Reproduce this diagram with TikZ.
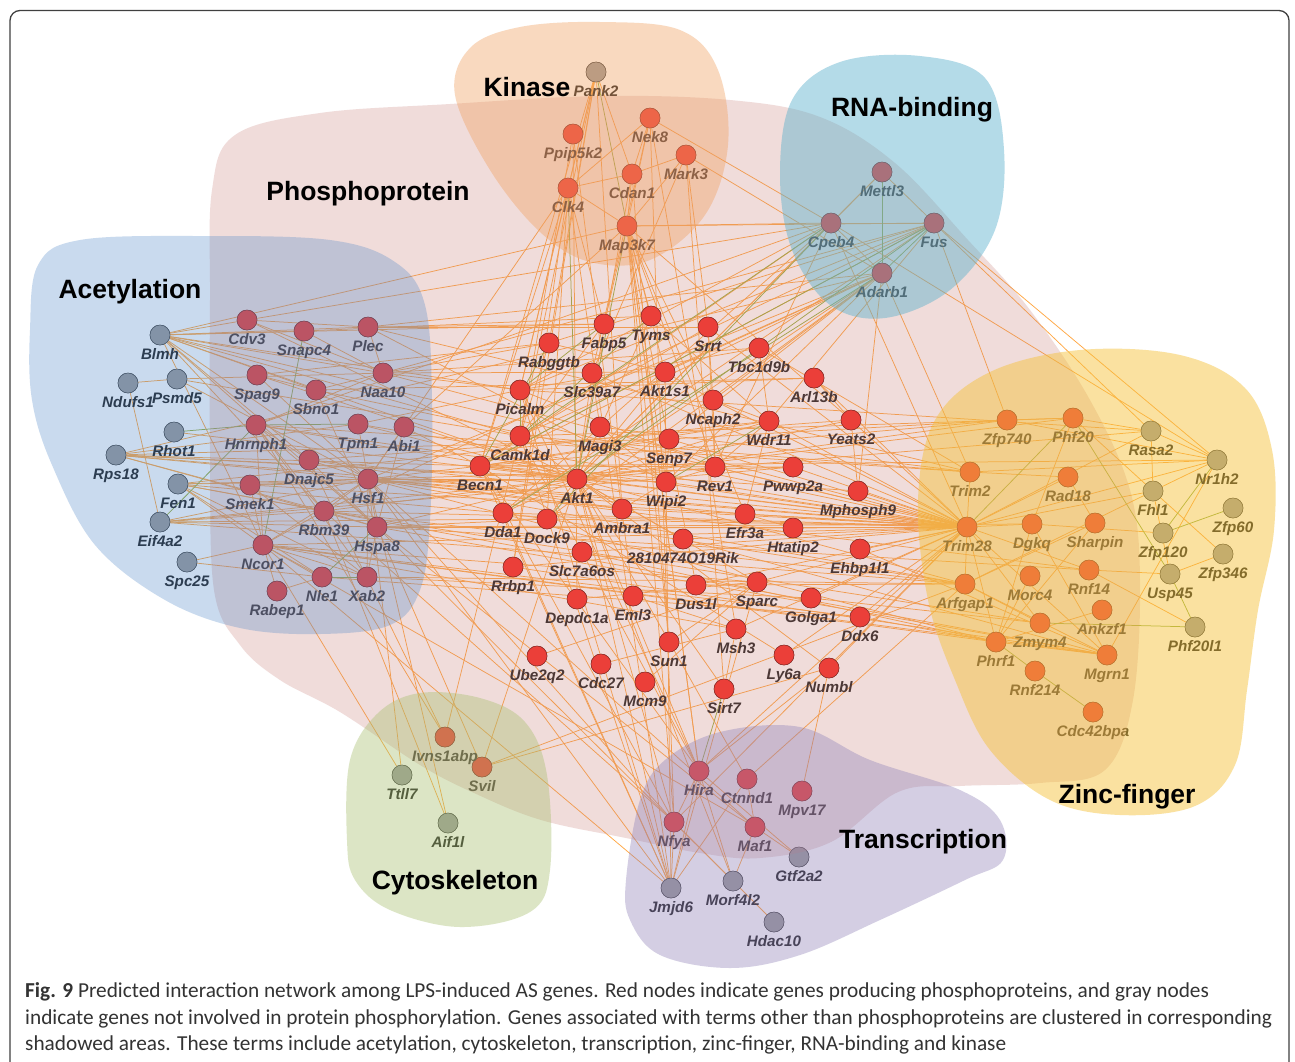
\documentclass[tikz,border=0pt]{standalone}
\usepackage{fontspec}
\setmainfont{Liberation Sans}
\newfontfamily\capfont{Carlito}
\definecolor{nodered}{HTML}{F82822}
\definecolor{nodegray}{HTML}{9A9A9A}
\definecolor{edgeor}{HTML}{FFA845}
\definecolor{edgegr}{HTML}{98B040}
\definecolor{labcol}{HTML}{1E1E1E}
\definecolor{phospho}{HTML}{C87F78}
\definecolor{acetyl}{HTML}{4F86C8}
\definecolor{kinase}{HTML}{F0A060}
\definecolor{rnab}{HTML}{5AB0CC}
\definecolor{zinc}{HTML}{F5C23A}
\definecolor{cyto}{HTML}{A8C070}
\definecolor{transc}{HTML}{8E80B8}
\definecolor{captxt}{HTML}{333333}
\begin{document}
\begin{tikzpicture}[x=1pt,y=-1pt,
  lnk/.style={draw=edgeor, line width=0.75pt},
  lnkg/.style={draw=edgegr, line width=0.75pt},
  rnode/.style={circle, fill=nodered, draw=nodered!45!black, line width=0.5pt, minimum size=20pt, inner sep=0pt},
  gnode/.style={circle, fill=nodegray, draw=nodegray!45!black, line width=0.5pt, minimum size=20pt, inner sep=0pt},
  lab/.style={font=\fontsize{15.2}{17}\selectfont\bfseries\itshape, text=labcol, anchor=base, inner sep=0pt},
  grp/.style={font=\fontsize{26.5}{30}\selectfont\bfseries, text=black, inner sep=0pt},
  blob/.style={fill opacity=#1, draw=none},
  capt/.style={font=\capfont\fontsize{21.3}{24}\selectfont, text=captxt, anchor=base west, inner sep=0pt}
]
\useasboundingbox (0,0) rectangle (1295,1061);
\clip (0,0) rectangle (1295,1061);
\fill[white] (0,0) rectangle (1295,1061);

% ---------------- nodes ----------------
\foreach \n/\x/\y in {Blmh/160/335, Ndufs1/128/383, Psmd5/177/379, Rhot1/174/432, Rps18/116/455, Fen1/178/484, Eif4a2/160/522, Spc25/187/562,
  Pank2/596/72, Rasa2/1151/431, Nr1h2/1217/460, Fhl1/1153/491, Zfp60/1233/508, Zfp120/1163/533, Zfp346/1223/554, Usp45/1170/574, Phf20l1/1195/627,
  Ttll7/402/775, Aif1l/448/823, Gtf2a2/799/857, Jmjd6/671/888, Morf4l2/733/881, Hdac10/774/922}
  { \node[gnode] (\n) at (\x,\y) {}; }

\foreach \n/\x/\y in {Cdv3/247/320, Snapc4/304/331, Plec/368/327, Spag9/257/375, Sbno1/316/390, Naa10/383/373, Hnrnph1/256/425, Tpm1/358/424, Abi1/404/427, Dnajc5/309/460, Smek1/250/485, Hsf1/368/479, Rbm39/324/511, Hspa8/377/527, Ncor1/263/545, Nle1/322/577, Xab2/367/577, Rabep1/277/591,
  Nek8/650/118, Ppip5k2/573/134, Mark3/686/155, Cdan1/632/174, Clk4/568/188, Map3k7/627/226,
  Mettl3/882/172, Cpeb4/831/223, Fus/934/223, Adarb1/882/273,
  Fabp5/604/324, Tyms/651/316, Srrt/708/327, Rabggtb/549/343, Tbc1d9b/759/348, Slc39a7/592/373, Akt1s1/665/372, Arl13b/814/378, Picalm/520/390, Ncaph2/713/400, Wdr11/769/421, Yeats2/851/420, Camk1d/520/436, Magi3/600/427, Senp7/669/439, Becn1/480/466, Rev1/715/467, Pwwp2a/793/467, Akt1/577/479, Wipi2/666/482, Mphosph9/858/491, Dda1/503/513, Dock9/547/519, Ambra1/622/509, Efr3a/745/514, Htatip2/793/528, Slc7a6os/582/552, Ehbp1l1/860/549, Rrbp1/513/567, Dus1l/696/585, Sparc/757/582, Depdc1a/577/599, Eml3/633/596, Golga1/811/598, Ddx6/860/617, Msh3/736/629, Sun1/669/642, Ly6a/784/655, Numbl/829/668, Ube2q2/537/656, Cdc27/601/664, Mcm9/645/682, Sirt7/724/689,
  Zfp740/1007/420, Phf20/1073/418, Trim2/970/472, Rad18/1068/477, Trim28/967/527, Dgkq/1032/524, Sharpin/1095/523, Rnf14/1089/570, Morc4/1030/576, Arfgap1/965/584, Ankzf1/1102/610, Zmym4/1040/623, Phrf1/996/642, Mgrn1/1107/655, Rnf214/1035/671, Cdc42bpa/1093/712,
  Ivns1abp/445/737, Svil/482/767, Hira/699/771, Ctnnd1/747/779, Mpv17/802/791, Nfya/674/822, Maf1/755/827}
  { \node[rnode] (\n) at (\x,\y) {}; }
\node[rnode] (Rik) at (683,539) {};

% ---------------- connectors ----------------
\foreach \a/\b in {Blmh/Snapc4, Blmh/Plec, Blmh/Naa10, Blmh/Sbno1, Blmh/Hsf1, Blmh/Hspa8, Blmh/Rbm39, Blmh/Akt1, Blmh/Trim28, Blmh/Picalm, Blmh/Ncor1, Blmh/Dnajc5, Blmh/Camk1d, Blmh/Cdv3,
 Ndufs1/Psmd5, Ndufs1/Eif4a2, Psmd5/Hsf1, Psmd5/Naa10,
 Rps18/Hsf1, Rps18/Akt1, Rps18/Hspa8, Rps18/Trim28, Rps18/Becn1, Rps18/Rbm39, Rps18/Tpm1, Rps18/Wipi2,
 Fen1/Hsf1, Fen1/Ncor1, Fen1/Rbm39, Fen1/Nle1, Fen1/Akt1, Fen1/Dda1, Fen1/Xab2, Fen1/Mgrn1,
 Eif4a2/Hspa8, Eif4a2/Hsf1, Eif4a2/Rbm39, Eif4a2/Akt1, Eif4a2/Dock9, Eif4a2/Arfgap1,
 Spc25/Ncor1, Spc25/Nle1,
 Cdv3/Plec, Cdv3/Naa10, Cdv3/Akt1, Snapc4/Naa10, Plec/Naa10, Plec/Wipi2, Plec/Fabp5, Plec/Trim2,
 Spag9/Sbno1, Spag9/Hsf1, Spag9/Akt1, Sbno1/Naa10, Sbno1/Hspa8, Naa10/Picalm, Naa10/Rabggtb, Naa10/Akt1s1,
 Hnrnph1/Dnajc5, Hnrnph1/Rbm39, Hnrnph1/Hspa8, Hnrnph1/Ncor1, Hnrnph1/Akt1, Hnrnph1/Trim28, Hnrnph1/Naa10, Hnrnph1/Trim2, Hnrnph1/Xab2,
 Tpm1/Hsf1, Tpm1/Akt1, Abi1/Hsf1, Abi1/Hspa8, Abi1/Becn1, Dnajc5/Hsf1, Dnajc5/Hspa8, Dnajc5/Ambra1,
 Smek1/Hsf1, Smek1/Ncor1, Smek1/Xab2, Smek1/Akt1,
 Hsf1/Rbm39, Hsf1/Hspa8, Hsf1/Ncor1, Hsf1/Akt1, Hsf1/Trim28, Hsf1/Becn1, Hsf1/Ambra1, Hsf1/Pwwp2a, Hsf1/Arfgap1, Hsf1/Rnf14, Hsf1/Efr3a,
 Rbm39/Ncor1, Rbm39/Hspa8, Rbm39/Trim28, Rbm39/Akt1, Rbm39/Zmym4,
 Hspa8/Xab2, Hspa8/Akt1, Hspa8/Trim28, Hspa8/Dgkq, Hspa8/Htatip2, Hspa8/Mgrn1, Hspa8/Dock9,
 Ncor1/Nle1, Ncor1/Rabep1, Ncor1/Xab2, Ncor1/Msh3, Ncor1/Trim28, Ncor1/Ddx6, Ncor1/Phrf1, Ncor1/Sparc,
 Xab2/Hsf1, Rabep1/Nle1, Xab2/Golga1,
 Pank2/Clk4, Pank2/Cdan1, Pank2/Becn1, Pank2/Rabggtb, Pank2/Camk1d, Pank2/Ambra1, Pank2/Picalm,
 Nek8/Clk4, Nek8/Cdan1, Nek8/Map3k7, Nek8/Cpeb4, Nek8/Slc39a7,
 Ppip5k2/Camk1d, Ppip5k2/Eml3,
 Mark3/Cdan1, Mark3/Map3k7, Mark3/Slc39a7, Mark3/Srrt, Mark3/Adarb1,
 Cdan1/Clk4, Cdan1/Map3k7, Cdan1/Akt1,
 Clk4/Map3k7, Clk4/Fabp5, Clk4/Picalm, Clk4/Becn1,
 Map3k7/Cpeb4, Map3k7/Fus, Map3k7/Tyms, Map3k7/Wipi2, Map3k7/Ncaph2, Map3k7/Akt1s1, Map3k7/Fabp5, Map3k7/Rev1, Map3k7/Yeats2, Map3k7/Efr3a,
 Mettl3/Cpeb4, Mettl3/Fus, Cpeb4/Fus, Cpeb4/Adarb1,
 Cpeb4/Becn1, Cpeb4/Rev1, Cpeb4/Nr1h2, Cpeb4/Picalm, Cpeb4/Trim28,
 Fus/Dda1, Fus/Rasa2, Fus/Nr1h2, Fus/Zfp740, Fus/Wdr11,
 Adarb1/Akt1, Adarb1/Becn1, Adarb1/Akt1s1, Adarb1/Ncaph2, Adarb1/Wipi2, Adarb1/Trim2, Adarb1/Mphosph9, Adarb1/Senp7,
 Fabp5/Camk1d, Tyms/Akt1, Srrt/Ncaph2, Srrt/Rev1, Srrt/Camk1d, Rabggtb/Camk1d, Rabggtb/Akt1s1, Tbc1d9b/Picalm, Tbc1d9b/Wdr11, Slc39a7/Akt1, Slc39a7/Magi3, Akt1s1/Akt1, Akt1s1/Wipi2, Akt1s1/Ncaph2, Arl13b/Picalm, Arl13b/Yeats2, Picalm/Akt1, Picalm/Rev1, Picalm/Rasa2, Ncaph2/Rev1, Ncaph2/Wdr11, Wdr11/Akt1, Wdr11/Rev1, Wdr11/Efr3a, Wdr11/Becn1, Yeats2/Akt1, Yeats2/Mphosph9, Camk1d/Becn1, Camk1d/Akt1, Camk1d/Trim2, Magi3/Akt1, Magi3/Wipi2, Senp7/Wipi2, Senp7/Becn1, Senp7/Trim28, Becn1/Akt1, Becn1/Trim28, Becn1/Pwwp2a, Becn1/Mphosph9, Becn1/Zfp740, Rev1/Wipi2, Rev1/Trim28, Pwwp2a/Trim28, Akt1/Wipi2, Akt1/Ambra1, Akt1/Dda1, Akt1/Dock9, Akt1/Trim28, Akt1/Rik, Akt1/Sirt7, Akt1/Numbl, Akt1/Zfp740, Akt1/Sparc, Akt1/Arfgap1, Akt1/Phf20, Wipi2/Ambra1, Wipi2/Trim28, Mphosph9/Trim28, Dda1/Dock9, Dda1/Trim28, Dock9/Trim28, Ambra1/Trim28, Efr3a/Htatip2, Efr3a/Trim28, Htatip2/Trim28, Rik/Trim28, Ehbp1l1/Trim28, Slc7a6os/Trim28, Rrbp1/Trim28, Dus1l/Trim28, Sparc/Trim28, Depdc1a/Sparc, Eml3/Msh3, Golga1/Trim28, Ddx6/Trim28, Msh3/Trim28, Sun1/Sparc, Ly6a/Trim28, Numbl/Trim28, Ube2q2/Sparc, Cdc27/Msh3, Mcm9/Sparc, Sirt7/Msh3, Ly6a/Becn1, Rrbp1/Mgrn1, Dock9/Arfgap1, Slc7a6os/Phrf1, Ehbp1l1/Mgrn1, Golga1/Zmym4, Ddx6/Phrf1, Dus1l/Arfgap1, Rik/Mgrn1,
 Trim28/Trim2, Trim28/Rasa2, Trim28/Fhl1, Trim28/Dgkq, Trim28/Arfgap1, Trim28/Phrf1, Trim28/Mgrn1, Trim28/Zmym4, Trim2/Nr1h2, Trim2/Rad18, Zfp740/Nr1h2, Phf20/Rasa2, Phf20/Dgkq, Phf20/Fhl1, Rasa2/Nr1h2, Rasa2/Fhl1, Nr1h2/Fhl1, Nr1h2/Mgrn1, Nr1h2/Trim28, Fhl1/Usp45, Fhl1/Zfp346, Fhl1/Arfgap1, Zfp120/Dgkq, Usp45/Zfp346, Usp45/Rnf14, Rad18/Sharpin, Rad18/Trim28, Dgkq/Phrf1, Sharpin/Phrf1, Sharpin/Arfgap1, Rnf14/Phf20l1, Rnf14/Trim28, Morc4/Phrf1, Arfgap1/Mgrn1, Arfgap1/Zmym4, Ankzf1/Phrf1, Phrf1/Mgrn1, Mgrn1/Dgkq, Zfp740/Phf20,
 Hira/Nfya, Hira/Jmjd6, Hira/Akt1, Hira/Camk1d, Hira/Map3k7, Hira/Picalm, Hira/Becn1, Ctnnd1/Maf1, Ctnnd1/Akt1, Ctnnd1/Jmjd6, Nfya/Jmjd6, Nfya/Morf4l2, Nfya/Akt1, Nfya/Becn1, Nfya/Trim28, Nfya/Hsf1, Nfya/Map3k7, Maf1/Morf4l2, Maf1/Ncor1, Maf1/Hsf1, Morf4l2/Hdac10, Morf4l2/Hira, Jmjd6/Akt1, Jmjd6/Hsf1, Jmjd6/Becn1, Jmjd6/Wipi2, Jmjd6/Camk1d, Jmjd6/Dda1, Jmjd6/Picalm, Jmjd6/Ncor1, Jmjd6/Sparc, Gtf2a2/Maf1, Gtf2a2/Hira, Morf4l2/Hspa8, Morf4l2/Akt1, Mpv17/Numbl, Numbl/Hira, Hira/Trim28, Ctnnd1/Arfgap1, Nfya/Rbm39, Maf1/Hspa8,
 Ivns1abp/Hnrnph1, Ivns1abp/Camk1d, Svil/Arfgap1, Svil/Numbl, Svil/Akt1, Svil/Hspa8, Ttll7/Ncor1, Ttll7/Hsf1, Aif1l/Hsf1, Aif1l/Rbm39, Ivns1abp/Dnajc5,
 Blmh/Map3k7, Blmh/Fabp5, Cdv3/Cpeb4, Snapc4/Tyms, Plec/Adarb1, Plec/Srrt, Naa10/Fus, Naa10/Tbc1d9b, Spag9/Rabggtb, Sbno1/Arl13b, Hnrnph1/Cpeb4, Tpm1/Picalm, Hsf1/Adarb1, Hsf1/Clk4, Rps18/Adarb1, Rps18/Senp7, Fen1/Wdr11, Eif4a2/Pwwp2a, Rbm39/Fus, Psmd5/Camk1d, Rhot1/Akt1, Abi1/Map3k7, Dnajc5/Yeats2, Picalm/Fus, Rabggtb/Fus, Becn1/Fus, Camk1d/Adarb1, Akt1/Cpeb4, Akt1/Mettl3, Dda1/Cpeb4, Dock9/Adarb1, Clk4/Dock9, Clk4/Rrbp1, Cdan1/Sun1, Nek8/Msh3, Mark3/Sirt7, Ppip5k2/Depdc1a, Map3k7/Dus1l, Map3k7/Sun1, Pank2/Rrbp1, Map3k7/Hira, Nek8/Nfya, Clk4/Jmjd6, Tyms/Wdr11, Srrt/Trim28, Tbc1d9b/Trim2, Arl13b/Trim28, Yeats2/Trim28, Wdr11/Trim28, Becn1/Nr1h2, Akt1/Rasa2, Ncaph2/Trim28, Senp7/Zfp740, Camk1d/Phf20, Magi3/Trim2, Slc39a7/Trim28, Hspa8/Rnf14, Rbm39/Arfgap1, Hsf1/Phrf1, Ncor1/Mgrn1, Xab2/Arfgap1, Nle1/Ddx6, Smek1/Trim28, Dnajc5/Trim28, Tpm1/Trim28, Sbno1/Trim28, Naa10/Trim28}
  { \draw[lnk] (\a) -- (\b); }
\foreach \a/\b in {Rhot1/Hnrnph1, Hnrnph1/Tpm1, Snapc4/Ncor1, Nle1/Xab2, Nle1/Hspa8, Cpeb4/Camk1d, Fus/Akt1, Adarb1/Dda1, Zfp60/Zfp120, Usp45/Phf20l1, Phrf1/Rnf214, Rnf214/Cdc42bpa, Zmym4/Phf20l1, Phf20/Usp45, Trim28/Phf20, Picalm/Camk1d, Hira/Sirt7, Clk4/Akt1, Pank2/Map3k7, Map3k7/Akt1, Mettl3/Adarb1, Fus/Adarb1, Eif4a2/Hnrnph1, Fabp5/Picalm, Tyms/Camk1d, Wdr11/Wipi2, Zfp120/Nr1h2, Cpeb4/Dock9, Fus/Becn1, Rabggtb/Becn1}
  { \draw[lnkg] (\a) -- (\b); }

% redraw nodes on top of connectors
\foreach \n in {Blmh, Ndufs1, Psmd5, Rhot1, Rps18, Fen1, Eif4a2, Spc25, Pank2, Rasa2, Nr1h2, Fhl1, Zfp60, Zfp120, Zfp346, Usp45, Phf20l1, Ttll7, Aif1l, Gtf2a2, Jmjd6, Morf4l2, Hdac10}
  { \fill[nodegray, draw=nodegray!45!black, line width=0.5pt] (\n) circle (10); }
\foreach \n in {Cdv3, Snapc4, Plec, Spag9, Sbno1, Naa10, Hnrnph1, Tpm1, Abi1, Dnajc5, Smek1, Hsf1, Rbm39, Hspa8, Ncor1, Nle1, Xab2, Rabep1, Nek8, Ppip5k2, Mark3, Cdan1, Clk4, Map3k7, Mettl3, Cpeb4, Fus, Adarb1, Fabp5, Tyms, Srrt, Rabggtb, Tbc1d9b, Slc39a7, Akt1s1, Arl13b, Picalm, Ncaph2, Wdr11, Yeats2, Camk1d, Magi3, Senp7, Becn1, Rev1, Pwwp2a, Akt1, Wipi2, Mphosph9, Dda1, Dock9, Ambra1, Efr3a, Htatip2, Rik, Slc7a6os, Ehbp1l1, Rrbp1, Dus1l, Sparc, Depdc1a, Eml3, Golga1, Ddx6, Msh3, Sun1, Ly6a, Numbl, Ube2q2, Cdc27, Mcm9, Sirt7, Zfp740, Phf20, Trim2, Rad18, Trim28, Dgkq, Sharpin, Rnf14, Morc4, Arfgap1, Ankzf1, Zmym4, Phrf1, Mgrn1, Rnf214, Cdc42bpa, Ivns1abp, Svil, Hira, Ctnnd1, Mpv17, Nfya, Maf1}
  { \fill[nodered, draw=nodered!45!black, line width=0.5pt] (\n) circle (10); }

% ---------------- labels ----------------
\foreach \n in {Blmh, Ndufs1, Psmd5, Rhot1, Rps18, Fen1, Eif4a2, Spc25, Pank2, Rasa2, Nr1h2, Fhl1, Zfp60, Zfp120, Zfp346, Usp45, Phf20l1, Ttll7, Aif1l, Gtf2a2, Jmjd6, Morf4l2, Hdac10, Cdv3, Snapc4, Plec, Spag9, Sbno1, Naa10, Hnrnph1, Tpm1, Abi1, Dnajc5, Smek1, Hsf1, Rbm39, Hspa8, Ncor1, Nle1, Xab2, Rabep1, Nek8, Ppip5k2, Mark3, Cdan1, Clk4, Map3k7, Mettl3, Cpeb4, Fus, Adarb1, Fabp5, Tyms, Srrt, Rabggtb, Tbc1d9b, Slc39a7, Akt1s1, Arl13b, Picalm, Ncaph2, Wdr11, Yeats2, Camk1d, Magi3, Senp7, Becn1, Rev1, Pwwp2a, Akt1, Wipi2, Mphosph9, Dda1, Dock9, Ambra1, Efr3a, Htatip2, Slc7a6os, Ehbp1l1, Rrbp1, Dus1l, Sparc, Depdc1a, Eml3, Golga1, Ddx6, Msh3, Sun1, Ly6a, Numbl, Ube2q2, Cdc27, Mcm9, Sirt7, Zfp740, Phf20, Trim2, Rad18, Trim28, Dgkq, Sharpin, Rnf14, Morc4, Arfgap1, Ankzf1, Zmym4, Phrf1, Mgrn1, Rnf214, Cdc42bpa, Ivns1abp, Svil, Hira, Ctnnd1, Mpv17, Nfya, Maf1}
  { \node[lab] (L\n) at ([yshift=-24pt]\n.center) {\n}; }
\node[lab] (LRik) at ([yshift=-24pt]Rik.center) {2810474O19Rik};

% ---------------- shaded term areas ----------------
\fill[phospho, blob=0.27] plot[smooth cycle, tension=0.6] coordinates {(210,300) (212,190) (235,135) (320,113) (450,104) (600,96) (730,100) (820,117) (895,163) (968,240) (1030,310) (1090,400) (1130,490) (1140,580) (1133,700) (1105,770) (1040,783) (960,786) (898,792) (831,842) (760,858) (700,853) (626,838) (541,820) (474,793) (420,765) (340,712) (280,680) (240,645) (214,590) (210,450)};
\fill[acetyl, blob=0.3] plot[smooth cycle, tension=0.6] coordinates {(30,330) (38,265) (80,240) (200,236) (330,240) (395,262) (425,305) (432,400) (430,520) (420,590) (390,625) (320,634) (240,628) (165,600) (95,545) (52,465) (32,400)};
\fill[kinase, blob=0.4] plot[smooth cycle, tension=0.6] coordinates {(455,95) (470,48) (520,27) (600,22) (680,30) (718,70) (728,145) (705,215) (650,260) (590,262) (540,232) (490,170)};
\fill[rnab, blob=0.45] plot[smooth cycle, tension=0.6] coordinates {(780,175) (792,100) (840,62) (920,56) (985,78) (1004,150) (995,230) (950,290) (885,318) (830,305) (792,250)};
\fill[zinc, blob=0.48] plot[smooth cycle, tension=0.6] coordinates {(918,500) (935,420) (990,372) (1080,350) (1180,355) (1245,388) (1272,450) (1274,530) (1258,610) (1247,690) (1235,765) (1195,806) (1120,815) (1050,800) (990,750) (955,680) (928,600)};
\fill[cyto, blob=0.4] plot[smooth cycle, tension=0.6] coordinates {(347,840) (350,760) (378,713) (420,693) (480,698) (525,722) (547,775) (550,870) (530,912) (460,927) (390,910) (355,880)};
\fill[transc, blob=0.38] plot[smooth cycle, tension=0.6] coordinates {(626,880) (640,800) (665,760) (720,732) (800,727) (870,760) (960,790) (1000,820) (1003,860) (965,880) (880,920) (800,955) (730,968) (660,955) (630,920)};

% ---------------- term names ----------------
\node[grp] (tAcet) at (130,292) {Acetylation};
\node[grp] (tPhos) at (368,194) {Phosphoprotein};
\node[grp] (tKin) at (527,87) {Kinase};
\node[grp] (tRNA) at (912,110) {RNA-binding};
\node[grp] (tZinc) at (1127,797) {Zinc-finger};
\node[grp] (tCyto) at (455,883) {Cytoskeleton};
\node[grp] (tTran) at (923,842) {Transcription};

% ---------------- frame and caption ----------------
\draw[line width=1.3pt, draw=black!75, rounded corners=10pt] (10,10.5) rectangle (1289,1090);
\node[capt] (cap1) at (25,997) {\textbf{Fig. 9} Predicted interaction network among LPS-induced AS genes. Red nodes indicate genes producing phosphoproteins, and gray nodes};
\node[capt] (cap2) at (25,1024) {indicate genes not involved in protein phosphorylation. Genes associated with terms other than phosphoproteins are clustered in corresponding};
\node[capt] (cap3) at (25,1050) {shadowed areas. These terms include acetylation, cytoskeleton, transcription, zinc-finger, RNA-binding and kinase};
\end{tikzpicture}
\end{document}
